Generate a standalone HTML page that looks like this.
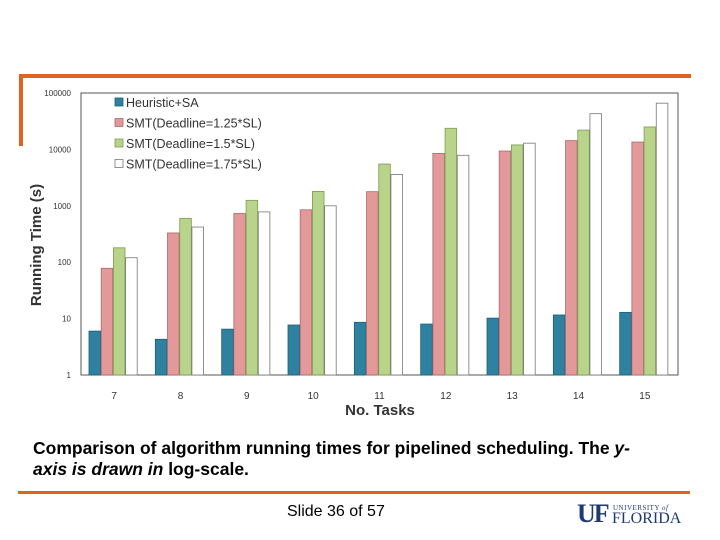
<!DOCTYPE html>
<html><head><meta charset="utf-8"><style>
body{margin:0;width:720px;height:540px;background:#fff;position:relative;overflow:hidden;font-family:"Liberation Sans",sans-serif}
.abs{position:absolute}
</style></head><body>
<div class="abs" style="left:19px;top:74px;width:672px;height:4px;background:#e0621e"></div>
<div class="abs" style="left:19px;top:74px;width:4px;height:72px;background:#e0621e"></div>
<svg class="abs" style="left:0;top:0" width="720" height="540">
<g id="g"></g>
</svg>
<div class="abs" style="left:33px;top:438px;width:680px;font-size:17.5px;font-weight:bold;line-height:21px;color:#000;white-space:nowrap">Comparison of algorithm running times for pipelined scheduling. The <i>y-</i><br><i>axis is drawn in</i> log-scale.</div>
<div class="abs" style="left:18px;top:491px;width:672px;height:3px;background:#e0621e"></div>
<div class="abs" style="left:287px;top:503px;font-size:16px;color:#000">Slide 36 of 57</div>
<div class="abs" style="left:577px;top:503px;color:#1f3a70;font-family:'Liberation Serif',serif">
<span style="font-size:26px;font-weight:bold;letter-spacing:-2px;position:absolute;left:0;top:-4px">UF</span>
<span style="font-size:7px;position:absolute;left:36px;top:1px;white-space:nowrap;letter-spacing:0.5px">UNIVERSITY <i>of</i></span>
<span style="font-size:16px;position:absolute;left:35px;top:7px;white-space:nowrap">FLORIDA</span>
</div>
<script>
const categories=["7","8","9","10","11","12","13","14","15"];
const seriesNames=["Heuristic+SA","SMT(Deadline=1.25*SL)","SMT(Deadline=1.5*SL)","SMT(Deadline=1.75*SL)"];
const heuristic=[6,4.3,6.5,7.7,8.6,8,10.2,11.6,12.9];
const smt125=[78,330,730,850,1780,8500,9350,14300,13500];
const smt15=[180,600,1250,1800,5500,23700,12000,22000,25000];
const smt175=[120,420,780,1000,3600,7860,12900,43000,66000];
const yTicks=[1,10,100,1000,10000,100000];
const colors=["#2e82a0","#e3999a","#b8d48a","#ffffff"];
const strokes=["#1d5f78","#a86a6a","#7e9a55","#777777"];
const L=81,R=678,T=93,B=375;
function y(v){return B-(Math.log10(v)/5)*(B-T);}
function gx(i){return L+i*(R-L)/categories.length;}
const NS="http://www.w3.org/2000/svg";
const g=document.getElementById('g');
function mk(t,a,p){const e=document.createElementNS(NS,t);for(const k in a)e.setAttribute(k,a[k]);(p||g).appendChild(e);return e;}
mk('rect',{x:L,y:T,width:R-L,height:B-T,fill:'#fff',stroke:'#555','stroke-width':1});
yTicks.forEach(v=>{const t=mk('text',{x:L-10,y:y(v)+3,'text-anchor':'end','font-size':8,fill:'#333','font-family':'Liberation Sans'});t.textContent=v;

});
const all=[heuristic,smt125,smt15,smt175];
categories.forEach((c,i)=>{
 const bw=12.2,x0=gx(i)+8;
 all.forEach((s,k)=>{
  const r=mk('rect',{x:x0+k*bw,y:y(s[i]),width:bw-0.6,height:B-y(s[i]),fill:colors[k],stroke:strokes[k],'stroke-width':0.8});
  
  
 });
 const t=mk('text',{x:gx(i)+(R-L)/18,y:399,'text-anchor':'middle','font-size':10,fill:'#333','font-family':'Liberation Sans'});t.textContent=c;
 
 
});
seriesNames.forEach((n,k)=>{
 const ly=106+k*20.5;
 const r=mk('rect',{x:115,y:ly-8,width:8,height:8,fill:colors[k],stroke:strokes[k],'stroke-width':0.8});
 
 
 const t=mk('text',{x:126,y:ly+1,'font-size':12.5,fill:'#333','font-family':'Liberation Sans'});t.textContent=n;
 
 
});
const xt=mk('text',{x:380,y:415,'text-anchor':'middle','font-size':15,'font-weight':'bold',fill:'#333','font-family':'Liberation Sans'});xt.textContent='No. Tasks';


const yt=mk('text',{x:0,y:0,'text-anchor':'middle','font-size':15,'font-weight':'bold',fill:'#333','font-family':'Liberation Sans',transform:'translate(41,245) rotate(-90)'});yt.textContent='Running Time (s)';


</script>
</body></html>
